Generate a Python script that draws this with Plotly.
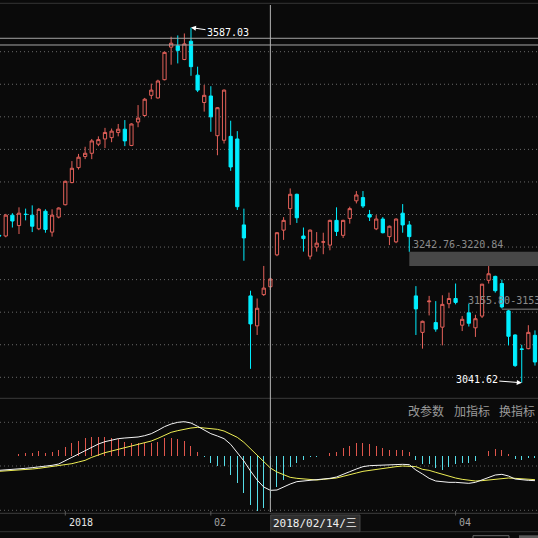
import plotly.graph_objects as go

# ---------------- data ----------------
dates = [
    "2017-12-18", "2017-12-19", "2017-12-20", "2017-12-21", "2017-12-22",
    "2017-12-25", "2017-12-26", "2017-12-27", "2017-12-28", "2017-12-29",
    "2018-01-02", "2018-01-03", "2018-01-04", "2018-01-05", "2018-01-08",
    "2018-01-09", "2018-01-10", "2018-01-11", "2018-01-12", "2018-01-15",
    "2018-01-16", "2018-01-17", "2018-01-18", "2018-01-19", "2018-01-22",
    "2018-01-23", "2018-01-24", "2018-01-25", "2018-01-26", "2018-01-29",
    "2018-01-30", "2018-01-31", "2018-02-01", "2018-02-02", "2018-02-05",
    "2018-02-06", "2018-02-07", "2018-02-08", "2018-02-09", "2018-02-12",
    "2018-02-13", "2018-02-14", "2018-02-22", "2018-02-23", "2018-02-26",
    "2018-02-27", "2018-02-28", "2018-03-01", "2018-03-02", "2018-03-05",
    "2018-03-06", "2018-03-07", "2018-03-08", "2018-03-09", "2018-03-12",
    "2018-03-13", "2018-03-14", "2018-03-15", "2018-03-16", "2018-03-19",
    "2018-03-20", "2018-03-21", "2018-03-22", "2018-03-23", "2018-03-26",
    "2018-03-27", "2018-03-28", "2018-03-29", "2018-03-30", "2018-04-02",
    "2018-04-03", "2018-04-04", "2018-04-09", "2018-04-10", "2018-04-11",
    "2018-04-12", "2018-04-13", "2018-04-16", "2018-04-17", "2018-04-18",
    "2018-04-19", "2018-04-20",
]

opens = [
    3268, 3267, 3299, 3283, 3300.5, 3299, 3278, 3305, 3273, 3296,
    3315, 3349, 3372, 3389, 3394, 3408, 3416, 3418, 3426, 3431,
    3406, 3442, 3452, 3483, 3479, 3507, 3557, 3559, 3538, 3566,
    3514, 3472, 3482, 3421, 3414, 3420, 3416, 3284, 3175, 3129,
    3177, 3189, 3238, 3276, 3309, 3331, 3267, 3236, 3250, 3257.5,
    3253, 3291, 3268, 3294, 3321, 3326, 3300, 3278, 3293, 3266,
    3258, 3302, 3284, 3175, 3119, 3166, 3134, 3127, 3163, 3171,
    3130, 3149, 3126, 3144, 3199, 3205, 3194, 3152, 3115, 3093.5,
    3094, 3114.5,
]
highs = [
    3270, 3301, 3302, 3311, 3309, 3314, 3310, 3308, 3308, 3311,
    3352, 3382, 3393, 3404, 3416, 3420, 3433, 3432, 3439, 3445,
    3440, 3468, 3479, 3501, 3507, 3550, 3573, 3575, 3578, 3587.03,
    3527, 3499, 3497, 3465, 3492, 3444, 3428, 3309, 3183, 3171,
    3221, 3203, 3273, 3296, 3340, 3332, 3280, 3277, 3273, 3272,
    3292, 3311, 3292, 3312, 3336, 3336, 3307, 3299, 3296, 3283,
    3294, 3316, 3290, 3190, 3137, 3175, 3167, 3176, 3180, 3194,
    3144, 3163, 3146, 3193.5, 3220.84, 3206, 3200, 3153.5, 3116, 3100,
    3130, 3122,
]
lows = [
    3264, 3265, 3280, 3270, 3291, 3273, 3276, 3272, 3266, 3294,
    3314, 3348, 3369, 3385, 3385, 3405, 3402, 3411, 3420, 3405,
    3405, 3434, 3450, 3477, 3478, 3506, 3530, 3532, 3537, 3513,
    3488, 3458, 3427, 3391, 3409, 3367, 3307, 3229, 3063, 3115,
    3175, 3184, 3236, 3261, 3284, 3287, 3243, 3231, 3243, 3239,
    3245, 3267, 3264, 3286, 3317, 3310, 3290, 3276, 3271, 3253,
    3256, 3272, 3242.76, 3115, 3094, 3145, 3120, 3099, 3156, 3162,
    3121, 3128, 3112, 3141, 3194, 3180, 3155.80, 3099, 3066, 3041.62,
    3093, 3068,
]
closes = [
    3267, 3299, 3290, 3302, 3300, 3282, 3308, 3277, 3299, 3310,
    3351, 3371, 3388, 3394, 3413, 3415, 3426, 3428, 3431, 3413,
    3439, 3448, 3477, 3491, 3505, 3549, 3563, 3552, 3562, 3527,
    3491, 3483, 3450, 3464, 3491, 3373, 3312, 3264, 3132, 3156,
    3187, 3201, 3272, 3291, 3331, 3295, 3263, 3276, 3256, 3258,
    3291, 3274, 3291, 3309, 3330, 3313, 3296, 3293, 3272, 3282,
    3293, 3284, 3266, 3155, 3136, 3167, 3124, 3162, 3171, 3165,
    3139, 3133, 3140, 3193, 3209, 3183, 3158, 3113, 3068, 3093,
    3119, 3073.5,
]

macd_dif = [
    -26.7, -26.1, -24.9, -23.7, -23.1, -21.9, -20.7, -19.5, -17.7, -15.3,
    -9.9, -3.3, 2.7, 8.7, 14.7, 20.7, 24.9, 27.9, 30.3, 31.5,
    32.1, 33.3, 35.7, 39.3, 45.3, 51.9, 56.7, 59.7, 60.9, 58.5,
    52.5, 45.3, 39.3, 35.1, 30.3, 20.1, 5.1, -9.9, -27.9, -44.1,
    -56.7, -62.7, -62.1, -56.1, -51.3, -47.1, -45.9, -44.7, -44.1, -42.9,
    -41.1, -38.7, -33.3, -29.1, -24.3, -20.1, -18.3, -17.7, -17.1, -16.5,
    -15.9, -15.9, -16.5, -26.1, -33.3, -41.1, -45.9, -47.7, -48.3, -48.3,
    -48.9, -50.1, -48.3, -44.1, -39.3, -35.1, -33.9, -36.9, -42.3, -44.1,
    -44.7, -45.3,
]
macd_dea = [
    -28.5, -27.9, -26.7, -26.1, -24.9, -24.3, -23.1, -21.3, -20.1, -18.9,
    -17.1, -14.7, -11.7, -8.7, -3.3, 1.5, 5.1, 8.1, 11.1, 14.1,
    17.1, 19.5, 22.5, 26.1, 30.9, 36.3, 41.7, 44.7, 47.7, 49.5,
    50.7, 49.5, 48.3, 47.1, 44.1, 38.1, 32.7, 23.7, 11.7, -0.3,
    -11.7, -22.5, -29.7, -35.1, -39.3, -41.1, -42.3, -43.5, -44.1, -42.9,
    -41.7, -40.5, -37.5, -35.1, -31.5, -28.5, -26.7, -24.3, -22.5, -21.3,
    -20.1, -18.9, -18.9, -20.1, -24.9, -26.7, -30.3, -33.9, -37.5, -40.5,
    -42.9, -44.7, -45.9, -45.3, -44.1, -42.3, -41.1, -40.5, -41.1, -41.7,
    -42.9, -43.5,
]
macd_hist = [
    0, -1.5, 0, 2.7, 4.5, 4.5, 8.7, 4.5, 6.9, 9.9,
    15.9, 21.9, 26.1, 32.1, 33.9, 33.9, 33.9, 30.9, 29.1, 24.9,
    21.9, 21.9, 23.1, 23.1, 24.9, 30.9, 32.1, 29.1, 26.1, 17.1,
    6.9, -2.1, -12.9, -18.9, -18.9, -35.1, -50.1, -66.9, -89.1, -99.3,
    -95.1, -77.1, -56.1, -44.1, -21.3, -14.1, -8.1, -3.3, -2.1, -0.9,
    3.9, 6.9, 12.9, 17.7, 23.1, 23.1, 20.7, 17.1, 12.9, 9.9,
    9.9, 9.9, 6.9, -8.1, -15.3, -15.3, -23.1, -26.1, -20.1, -15.3,
    -14.1, -12.9, -9.3, 0, 8.7, 11.7, 9.9, 2.7, -6.3, -8.1,
    -5.1, -5.1,
]

price_grid = [3050, 3100, 3150, 3200, 3250, 3300, 3350, 3400, 3450, 3500, 3550]
drawn_levels = [3570.6, 3560.3]
time_tick_dates = ["2018-01-02", "2018-02-01", "2018-04-02"]
time_tick_labels = ["2018", "02", "04"]
menu_labels = ["改参数", "加指标", "换指标"]
cursor_date = "2018-02-14"
cursor_label = "2018/02/14/三"
gap1 = ("2018-03-22", "2018-04-11")   # low of first, high of second
gap2 = ("2018-04-13", "2018-04-16")

# ---------------- layout helpers (pixels of the 538x538 page) ----------------
W = H = 538
BG = "#0a0a0a"
RED = "#e4615a"
CYAN = "#00eeff"
HRED = "#e0564c"
HCYAN = "#55dde8"
MONO = "DejaVu Sans Mono, Noto Sans CJK SC"
CJK = "Noto Sans CJK SC"

STEP = 6.615           # px per trading day
X0PX = 65.3 - 10 * STEP  # px of index 0
xs = list(range(len(dates)))
idx = {d: i for i, d in enumerate(dates)}


def xpx(px):
    return (px - X0PX) / STEP


def py(px):
    return 1 - px / H


def price_at(ypx):
    return 3050 + (377.3 - ypx) * 1.5356


def macd_at(ypx):
    return (455.5 - ypx) * 1.8


xrange_ = [xpx(0), xpx(W)]

fig = go.Figure()

fig.add_trace(go.Candlestick(
    x=xs, open=opens, high=highs, low=lows, close=closes,
    increasing=dict(line=dict(color=RED, width=1), fillcolor=BG),
    decreasing=dict(line=dict(color=CYAN, width=1), fillcolor=CYAN),
    whiskerwidth=0, xaxis="x", yaxis="y", hoverinfo="skip",
))


def stems(sign):
    sx, sy = [], []
    for i, v in zip(xs, macd_hist):
        if (v > 0 and sign > 0) or (v < 0 and sign < 0):
            sx += [i, i, None]
            sy += [0, v, None]
    return sx, sy


for sign, col, uid in [(1, HRED, "histpos"), (-1, HCYAN, "histneg")]:
    sx, sy = stems(sign)
    fig.add_trace(go.Scatter(x=sx, y=sy, mode="lines", line=dict(color=col, width=1),
                             xaxis="x2", yaxis="y2", hoverinfo="skip", uid=uid,
                             connectgaps=False))

fig.add_trace(go.Scatter(x=xs, y=macd_dea, mode="lines", line=dict(color="#eeee55", width=1),
                         xaxis="x2", yaxis="y2", hoverinfo="skip"))
fig.add_trace(go.Scatter(x=xs, y=macd_dif, mode="lines", line=dict(color="#f4f4f4", width=1),
                         xaxis="x2", yaxis="y2", hoverinfo="skip"))

shapes = []
# dotted price grid
for p in price_grid:
    shapes.append(dict(type="line", xref="paper", yref="y", x0=0, x1=1, y0=p, y1=p,
                       line=dict(color="#6a6a6a", width=1, dash="1px,3px"), layer="below"))
# gap bands
g1_lo = lows[idx[gap1[0]]]
g1_hi = highs[idx[gap1[1]]]
shapes.append(dict(type="rect", xref="x", yref="y", x0=idx[gap1[0]], x1=xrange_[1] + 2,
                   y0=g1_hi, y1=g1_lo, fillcolor="#474747", line=dict(width=0), layer="below"))
g2_lo = lows[idx[gap2[0]]]
g2_hi = highs[idx[gap2[1]]]
shapes.append(dict(type="rect", xref="x", yref="y", x0=idx[gap2[0]], x1=xrange_[1] + 2,
                   y0=g2_hi, y1=g2_lo, fillcolor="#5c5c5c", line=dict(width=0), layer="below"))
# drawn horizontal levels
for p in drawn_levels:
    shapes.append(dict(type="line", xref="paper", yref="y", x0=0, x1=1, y0=p, y1=p,
                       line=dict(color="#a6a6a6", width=1)))
# panel frame lines
for ypx, col in [(3.3, "#343434"), (398.3, "#3a3a3a"), (513.3, "#3c3c3c"), (531.7, "#343434")]:
    shapes.append(dict(type="line", xref="paper", yref="paper", x0=0, x1=1,
                       y0=py(ypx), y1=py(ypx), line=dict(color=col, width=1)))
# MACD dotted grid
for ypx in [422.3, 466.0, 510.3]:
    v = macd_at(ypx)
    shapes.append(dict(type="line", xref="paper", yref="y2", x0=0, x1=1, y0=v, y1=v,
                       line=dict(color="#5e5e5e", width=1, dash="1px,3px"), layer="below"))
# time ticks
for d in time_tick_dates:
    shapes.append(dict(type="line", xref="x2", yref="paper", x0=idx[d], x1=idx[d],
                       y0=py(515.5), y1=py(511.0), line=dict(color="#5a5a5a", width=1)))
# crosshair
shapes.append(dict(type="line", xref="x", yref="paper", x0=idx[cursor_date], x1=idx[cursor_date],
                   y0=py(512), y1=py(5), line=dict(color="#b4b4b4", width=1)))
# date box
shapes.append(dict(type="rect", xref="paper", yref="paper", x0=270.7 / W, x1=360 / W,
                   y0=py(531.7), y1=py(515), fillcolor="#2e2e2e", line=dict(color="#454545", width=1)))
# bottom buttons (cut off)
shapes.append(dict(type="rect", xref="paper", yref="paper", x0=473 / W, x1=509 / W,
                   y0=py(545), y1=py(535.7), fillcolor=BG, line=dict(color="#6a6a6a", width=1)))
shapes.append(dict(type="rect", xref="paper", yref="paper", x0=519 / W, x1=545 / W,
                   y0=py(545), y1=py(535.3), fillcolor="#5a5a5a", line=dict(width=0)))

ann = []
hi_i = highs.index(max(highs))
lo_i = lows.index(min(lows))
ann.append(dict(x=hi_i, y=highs[hi_i], xref="x", yref="y", text=f"{highs[hi_i]:.2f}",
                showarrow=True, arrowhead=2, arrowsize=1, arrowwidth=1, arrowcolor="#ffffff",
                ax=37, ay=5.4, standoff=0, font=dict(family=MONO, size=10, color="#ffffff")))
ann.append(dict(x=lo_i, y=lows[lo_i], xref="x", yref="y", text=f"{lows[lo_i]:.2f}",
                showarrow=True, arrowhead=2, arrowsize=1, arrowwidth=1, arrowcolor="#ffffff",
                ax=-45, ay=-3.4, standoff=0, font=dict(family=MONO, size=10, color="#ffffff")))
ann.append(dict(x=xpx(411), y=price_at(244), xref="x", yref="y", xanchor="left", yanchor="middle",
                text=f"{g1_lo:.2f}-{g1_hi:.2f}", showarrow=False,
                font=dict(family=MONO, size=10, color="#8a8a8a")))
ann.append(dict(x=xpx(465.7), y=price_at(300.7), xref="x", yref="y", xanchor="left", yanchor="middle",
                text=f"{g2_lo:.2f}-{g2_hi:.2f}", showarrow=False,
                font=dict(family=MONO, size=10, color="#8a8a8a")))
for lab, xp in zip(menu_labels, [406, 452, 497]):
    ann.append(dict(x=xp / W, y=py(410.7), xref="paper", yref="paper", xanchor="left",
                    yanchor="middle", text=lab, showarrow=False,
                    font=dict(family=CJK, size=12, color="#9a9a9a")))
for d, lab in zip(time_tick_dates, time_tick_labels):
    ann.append(dict(x=idx[d], y=py(522.7), xref="x2", yref="paper", xanchor="left",
                    yanchor="middle", xshift=1.5, text=lab, showarrow=False,
                    font=dict(family=MONO, size=10,
                              color="#e6e6e6" if len(lab) == 4 else "#a0a0a0")))
ann.append(dict(x=315.3 / W, y=py(523.3), xref="paper", yref="paper", xanchor="center",
                yanchor="middle", text=cursor_label, showarrow=False,
                font=dict(family=MONO, size=11, color="#f0f0f0")))

axis_off = dict(showgrid=False, zeroline=False, showticklabels=False, showline=False,
                ticks="", fixedrange=True)
fig.update_layout(
    width=W, height=H,
    margin=dict(l=0, r=0, t=0, b=0, pad=0),
    paper_bgcolor=BG, plot_bgcolor=BG,
    showlegend=False,
    font=dict(family=MONO, color="#cccccc"),
    xaxis=dict(domain=[0, 1], range=xrange_, anchor="y", rangeslider=dict(visible=False), **axis_off),
    xaxis2=dict(domain=[0, 1], range=xrange_, anchor="y2", matches="x", **axis_off),
    yaxis=dict(domain=[py(398), py(4)], range=[price_at(398), price_at(4)], anchor="x", **axis_off),
    yaxis2=dict(domain=[py(513.3), py(398)], range=[macd_at(513.3), macd_at(398)], anchor="x2",
                **axis_off),
    shapes=shapes,
    annotations=ann,
)

fig.write_html(
    "out.html",
    config={"displayModeBar": False},
    post_script=(
        "document.body.style.margin='0';document.body.style.padding='0';"
        "document.body.style.background='" + BG + "';"
        "document.body.style.overflow='hidden';"
        "var st=document.createElement('style');"
        "st.textContent='.tracehistpos path,.tracehistneg path{shape-rendering:crispEdges}';"
        "document.head.appendChild(st);"
    ),
)
